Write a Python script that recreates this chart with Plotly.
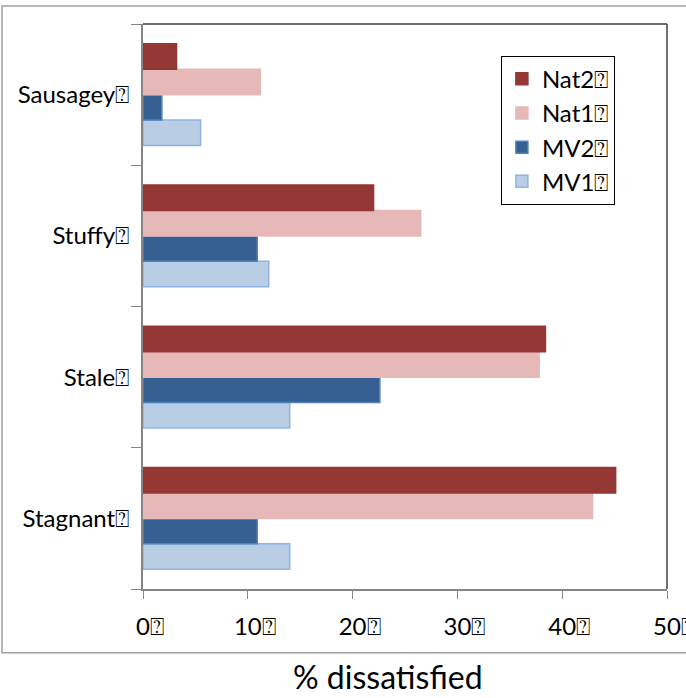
import plotly.graph_objects as go

# categories listed bottom to top (plotly puts the first category at the bottom)
categories = ["Stagnant⍰", "Stale⍰", "Stuffy⍰", "Sausagey⍰"]

mv1 = [14.0, 14.0, 12.0, 5.5]
mv2 = [10.9, 22.6, 10.9, 1.8]
nat1 = [42.9, 37.8, 26.5, 11.2]
nat2 = [45.1, 38.4, 22.0, 3.2]

x_ticks = [0, 10, 20, 30, 40, 50]
x_tick_text = ["0⍰", "10⍰", "20⍰", "30⍰", "40⍰", "50⍰"]

FONT = "Lato, 'Open Sans', sans-serif"

fig = go.Figure()
# first trace ends up at the bottom of each group
series = [
    ("MV1⍰", mv1, "#B9CDE5", "#8EB4E3"),
    ("MV2⍰", mv2, "#376092", "#4F81BD"),
    ("Nat1⍰", nat1, "#E6B9B8", "#E6B9B8"),
    ("Nat2⍰", nat2, "#953735", "#953735"),
]
for name, vals, col, edge in series:
    fig.add_trace(go.Bar(
        y=categories, x=vals, name=name, orientation="h",
        legendgroup=name,
        marker=dict(color=col, line=dict(color=edge, width=1.5)),
    ))

fig.update_layout(
    width=686, height=698,
    margin=dict(l=143, r=19, t=24, b=109),
    paper_bgcolor="white", plot_bgcolor="white",
    font=dict(family=FONT, size=24, color="black"),
    barmode="group", bargap=0.28, bargroupgap=0,
    legend=dict(
        x=0.683, y=0.944, xanchor="left", yanchor="top",
        bordercolor="black", borderwidth=1, bgcolor="white",
        traceorder="reversed", tracegroupgap=5,
        font=dict(size=24),
    ),
    showlegend=True,
)
fig.update_xaxes(
    range=[0, 50], tickvals=x_ticks, ticktext=x_tick_text,
    showgrid=False, zeroline=False, automargin=False,
    showline=True, linecolor="#868686", linewidth=1.5,
    ticks="outside", ticklen=8, tickcolor="#868686",
    ticklabelstandoff=7, ticklabelshift=7, ticklabeloverflow="allow",
)
fig.update_yaxes(
    showgrid=False, zeroline=False, automargin=False,
    showline=True, linecolor="#868686", linewidth=2,
    ticks="outside", ticklen=10, tickcolor="#868686", tickson="boundaries",
    ticklabelstandoff=7,
)

# outer chart border (light gray)
fig.add_shape(type="rect", xref="paper", yref="paper",
              x0=-0.269, x1=1.07, y0=-0.113, y1=1.032,
              line=dict(color="#A0A0A0", width=1.5), layer="below")
# dark top and right edges of the plot frame
fig.add_shape(type="line", xref="paper", yref="paper", x0=0, x1=1, y0=1, y1=1,
              line=dict(color="#404040", width=1.5))
fig.add_shape(type="line", xref="paper", yref="paper", x0=1, x1=1, y0=0, y1=1,
              line=dict(color="#404040", width=1.5))

fig.add_annotation(text="% dissatisfied", xref="paper", yref="paper",
                   x=0.468, y=-0.155, showarrow=False,
                   xanchor="center", yanchor="middle",
                   font=dict(size=32, family=FONT))

# drop the default page margin so the figure sits at the window's corner
fig.write_html("out.html", config={"displayModeBar": False},
               post_script="document.body.style.margin='0';")
